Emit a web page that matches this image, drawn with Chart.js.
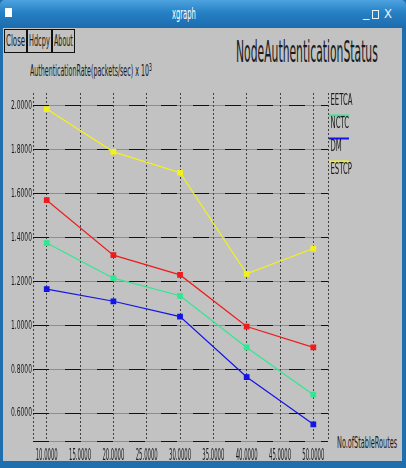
<!DOCTYPE html>
<html>
<head>
<meta charset="utf-8">
<script src="https://cdn.jsdelivr.net/npm/chart.js@4.4.1/dist/chart.umd.min.js"></script>
<style>
  html, body { margin: 0; padding: 0; }
  body {
    width: 406px; height: 468px; overflow: hidden; position: relative;
    background: #1f6fae;
    font-family: "Liberation Sans Narrow", "DejaVu Sans Condensed", "Liberation Sans", sans-serif;
  }
  #titlebar {
    position: absolute; left: 0; top: 0; width: 406px; height: 28px;
    background: linear-gradient(#4da3df, #2680c4 45%, #1c6cad);
    border-radius: 5px 5px 0 0;
  }
  #panel { position: absolute; left: 3px; top: 28px; width: 399px; height: 433px; background: #c2c2c2; }
  #chart { position: absolute; left: 0; top: 0; }
  .t { position: absolute; white-space: nowrap; line-height: 1; transform-origin: left top; color: #1a1a1a; }
  .btn { position: absolute; top: 29px; height: 24px; border: 1px solid #111; box-sizing: border-box; }
  .wbox { position: absolute; background: #fff; }
</style>
</head>
<body>
<div id="titlebar"></div>
<div class="wbox" style="left:5px;top:8px;width:7px;height:9px;"></div>
<div class="t fit" data-w="24" style="left:172px;top:6px;font-size:16px;color:#fff;">xgraph</div>
<div class="t" style="left:363px;top:5px;font-size:14px;color:#e8f2fa;">_</div>
<div style="position:absolute;left:372px;top:10px;width:5px;height:7px;border:1px solid #e8f2fa;"></div>
<div class="t" style="left:384px;top:7px;font-size:13px;color:#e8f2fa;">X</div>
<div id="panel"></div>

<div class="btn" style="left:4px;width:23px;"></div>
<div class="btn" style="left:27px;width:25px;"></div>
<div class="btn" style="left:52px;width:23px;"></div>
<div class="t fit" data-w="19" style="left:6px;top:33px;font-size:16px;">Close</div>
<div class="t fit" data-w="21" style="left:29px;top:33px;font-size:16px;">Hdcpy</div>
<div class="t fit" data-w="19" style="left:54px;top:33px;font-size:16px;">About</div>

<div class="t fit" data-w="142" style="left:236px;top:37px;font-size:30px;">NodeAuthenticationStatus</div>
<div class="t fit" data-w="122" style="left:30px;top:62px;font-size:15px;">AuthenticationRate(packets/sec) x 10<sup style="font-size:11px;vertical-align:5px;">3</sup></div>
<div class="t fit" data-w="60" style="left:337px;top:436px;font-size:15px;">No.ofStableRoutes</div>

<canvas id="chart" width="406" height="468"></canvas>

<script>
// xgraph output: authentication rate vs number of stable routes
const routes = [10, 20, 30, 40, 50];
const eetca = [1.57, 1.32, 1.23, 0.995, 0.90];
const nctc = [1.375, 1.215, 1.135, 0.90, 0.685];
const dm = [1.165, 1.11, 1.04, 0.765, 0.55];
const estcp = [1.985, 1.79, 1.695, 1.235, 1.35];

const xTickValues = [10, 15, 20, 25, 30, 35, 40, 45, 50];
const xTickLabels = ['10.0000', '15.0000', '20.0000', '25.0000', '30.0000', '35.0000', '40.0000', '45.0000', '50.0000'];
const yTickValues = [0.6, 0.8, 1.0, 1.2, 1.4, 1.6, 1.8, 2.0];
const yTickLabels = ['0.6000', '0.8000', '1.0000', '1.2000', '1.4000', '1.6000', '1.8000', '2.0000'];

const FONT = '"Liberation Sans Narrow", "DejaVu Sans Condensed", "Liberation Sans", sans-serif';

// squeeze html texts to the width they have in the screenshot
document.querySelectorAll('.fit').forEach(el => {
  const w = el.offsetWidth;
  el.style.transform = 'scaleX(' + (parseFloat(el.dataset.w) / w) + ')';
});

function squeezed(ctx, text, x, y, align, sx) {
  ctx.save();
  ctx.translate(x, y);
  ctx.scale(sx, 1);
  ctx.textAlign = align;
  ctx.fillText(text, 0, 0);
  ctx.restore();
}

function toXY(values) {
  return values.map((v, i) => ({ x: routes[i], y: v }));
}

const xgraphText = {
  id: 'xgraphText',
  afterDraw(chart) {
    const { ctx, scales: { x, y } } = chart;
    ctx.save();
    ctx.fillStyle = '#1a1a1a';
    ctx.textBaseline = 'middle';

    ctx.font = '12px ' + FONT;
    let sx = 21 / ctx.measureText('2.0000').width;
    yTickValues.forEach((v, i) => squeezed(ctx, yTickLabels[i], 32, y.getPixelForValue(v), 'right', sx));

    ctx.font = '16px ' + FONT;
    sx = 22 / ctx.measureText('10.0000').width;
    xTickValues.forEach((v, i) => squeezed(ctx, xTickLabels[i], x.getPixelForValue(v), 456, 'center', sx));

    // legend, xgraph style: colour bar above each name
    ctx.font = '16px ' + FONT;
    sx = 22 / ctx.measureText('EETCA').width;
    chart.data.datasets.forEach((ds, i) => {
      const ty = 101 + i * 23;
      if (i > 0) { // first bar is not visible in the screenshot
        ctx.strokeStyle = ds.borderColor;
        ctx.lineWidth = 2;
        ctx.beginPath();
        ctx.moveTo(329, ty - 8.5);
        ctx.lineTo(349, ty - 8.5);
        ctx.stroke();
      }
      squeezed(ctx, ds.label, 330.5, ty, 'left', sx);
    });
    ctx.restore();
  }
};

function series(label, values, color) {
  return {
    label: label,
    data: toXY(values),
    borderColor: color,
    backgroundColor: color,
    borderWidth: 1.2,
    pointStyle: 'rect',
    pointRadius: 3.2,
    pointHoverRadius: 3.2,
    tension: 0
  };
}

const ctx = document.getElementById('chart').getContext('2d');
new Chart(ctx, {
  type: 'line',
  data: {
    datasets: [
      series('EETCA', eetca, '#ee1c1c'),
      series('NCTC', nctc, '#2fe890'),
      series('DM', dm, '#1414e6'),
      series('ESTCP', estcp, '#f2f21a')
    ]
  },
  options: {
    responsive: false,
    animation: false,
    devicePixelRatio: 1,
    layout: { padding: { left: 0, top: 93, right: 78, bottom: 0 } },
    plugins: { legend: { display: false }, tooltip: { enabled: false } },
    scales: {
      x: {
        type: 'linear',
        min: 7.94,
        max: 52.2,
        afterBuildTicks: s => { s.ticks = [s.min].concat(xTickValues, [s.max]).map(v => ({ value: v })); },
        afterFit: s => { s.height = 27; },
        ticks: { display: false },
        grid: { color: '#404040', lineWidth: 1, drawTicks: false, z: -1 },
        border: { display: false, dash: [2, 2] }
      },
      y: {
        type: 'linear',
        min: 0.474,
        max: 2.058,
        afterBuildTicks: s => { s.ticks = [s.min].concat(yTickValues).map(v => ({ value: v })); },
        afterFit: s => { s.width = 33; },
        ticks: { display: false },
        grid: { color: '#111', lineWidth: 1, drawTicks: false, z: -1 },
        border: { display: false, dash: [16, 16] }
      },
      y2: {
        type: 'linear',
        position: 'left',
        min: 0.474,
        max: 2.058,
        afterBuildTicks: s => { s.ticks = [s.min].concat(yTickValues).map(v => ({ value: v })); },
        afterFit: s => { s.width = 0; },
        ticks: { display: false },
        grid: { color: '#8e8e8e', lineWidth: 1, drawTicks: false, z: -2 },
        border: { display: false }
      }
    }
  },
  plugins: [xgraphText]
});
</script>
</body>
</html>
